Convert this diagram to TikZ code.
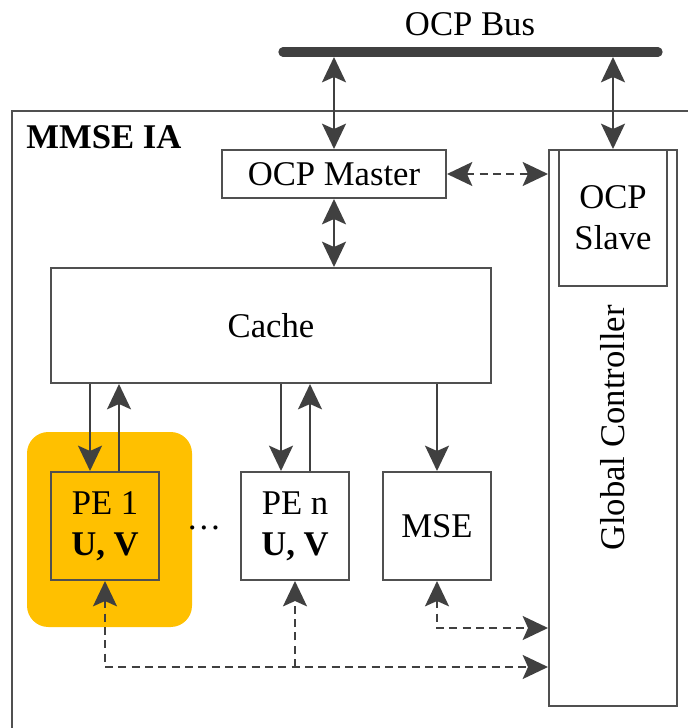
\documentclass[tikz,border=0pt]{standalone}
\usepackage{fontspec}
\setmainfont{Liberation Serif}
\usetikzlibrary{arrows.meta}
\definecolor{linegray}{HTML}{404040}
\definecolor{boxgray}{HTML}{505050}
\definecolor{peorange}{HTML}{FFC000}
\tikzset{
  base/.style={font=\fontsize{26}{31}\selectfont},
  block/.style={base, draw=boxgray, line width=1.5pt, fill=white, inner sep=0pt, align=center},
  conn/.style={draw=linegray, line width=1.5pt,
    arrows={-Stealth[length=19pt,width=18pt,inset=4pt]}},
  biconn/.style={conn, arrows={Stealth[length=19pt,width=18pt,inset=4pt]-Stealth[length=19pt,width=18pt,inset=4pt]}},
  ctrl/.style={conn, dash pattern=on 6pt off 4pt},
  bictrl/.style={biconn, dash pattern=on 6pt off 4pt},
}
\begin{document}
\begin{tikzpicture}[x=0.75pt, y=-0.75pt]
  \useasboundingbox (0,0) rectangle (688,728);

  % accelerator frame (open to the right and bottom)
  \draw[boxgray, line width=1.5pt] (688,111) -- (12,111) -- (12,728);
  \node[base, font=\fontsize{26}{31}\selectfont\bfseries, anchor=center] (title) at (104,137) {MMSE IA};

  % system bus
  \coordinate (busL) at (283,52);
  \coordinate (busR) at (658,52);
  \draw[linegray, line width=7pt, line cap=round] (busL) -- (busR);
  \node[base] (buslabel) at (470,24) {OCP Bus};
  \coordinate (busM) at (334,57);
  \coordinate (busS) at (613,57);

  % global controller with its slave port
  \node[block, minimum width=96pt, minimum height=417pt] (gc) at (613,428) {};
  \node[base, rotate=90] (gclabel) at (613,428) {Global Controller};
  \node[block, minimum width=81pt, minimum height=102pt] (slave) at (613,218) {OCP\\Slave};

  % master port and cache
  \node[block, minimum width=168pt, minimum height=36pt] (master) at (334,174) {OCP Master};
  \node[block, minimum width=330pt, minimum height=86.25pt] (cache) at (271,325.5) {Cache};

  % processing elements
  \node[fill=peorange, rounded corners=16pt, minimum width=123.75pt, minimum height=146.25pt, inner sep=0pt] (hl) at (109.5,529.5) {};
  \node[block, fill=peorange, minimum width=81pt, minimum height=81pt] (pe1) at (105,526) {PE 1\\\textbf{U, V}};
  \node[block, minimum width=81pt, minimum height=81pt] (pen) at (295,526) {PE n\\\textbf{U, V}};
  \node[block, minimum width=81pt, minimum height=81pt] (mse) at (437,526) {MSE};
  \node[base] (dots) at (204,528) {\dots};

  % bus connections
  \draw[biconn] (busM) -- (master.north);
  \draw[biconn] (busS) -- (slave.north);
  \draw[biconn] (master.south) -- (cache.north -| master.south);

  % cache data paths
  \coordinate (p1d) at (90,0);
  \coordinate (p1u) at (119,0);
  \coordinate (pnd) at (281,0);
  \coordinate (pnu) at (310,0);
  \draw[conn] (cache.south -| p1d) -- (pe1.north -| p1d);
  \draw[conn] (pe1.north -| p1u) -- (cache.south -| p1u);
  \draw[conn] (cache.south -| pnd) -- (pen.north -| pnd);
  \draw[conn] (pen.north -| pnu) -- (cache.south -| pnu);
  \draw[conn] (cache.south -| mse.north) -- (mse.north);

  % control paths
  \coordinate (lowrow) at (0,667);
  \coordinate (midrow) at (0,628);
  \draw[bictrl] (master.east) -- (gc.west |- master.east);
  \draw[bictrl] (pe1.south) -- (pe1.south |- lowrow) -- (gc.west |- lowrow);
  \draw[ctrl] (pen.south |- lowrow) -- (pen.south);
  \draw[bictrl] (mse.south) -- (mse.south |- midrow) -- (gc.west |- midrow);
\end{tikzpicture}
\end{document}
